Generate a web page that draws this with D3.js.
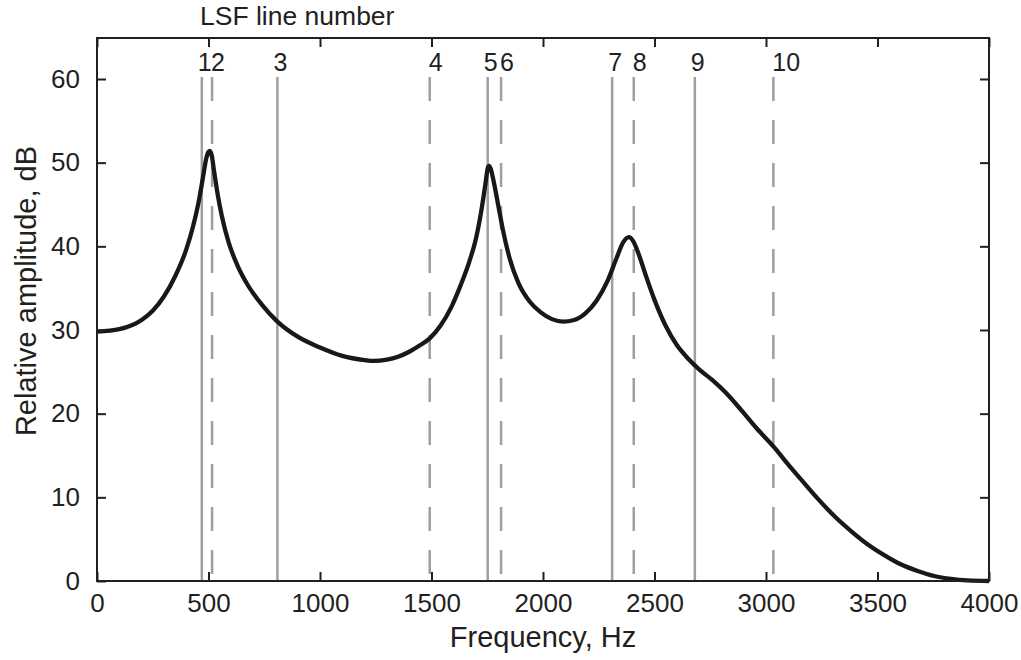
<!DOCTYPE html>
<html lang="en">
<head>
<meta charset="utf-8">
<title>LSF spectrum</title>
<script src="https://d3js.org/d3.v7.min.js"></script>
<style>
  body { margin: 0; background: #fff; }
  text { font-family: "Liberation Sans", Arial, Helvetica, sans-serif; fill: #231f20; }
</style>
</head>
<body>
<script>
// spectral envelope (Hz, dB)
var freqs = [0, 100, 200, 250, 300, 350, 400, 430, 455, 475, 490, 500, 506, 515, 525, 540, 560, 590, 630, 680, 740, 809,
             900, 1000, 1100, 1200, 1240, 1300, 1350, 1400, 1450, 1492, 1540, 1590, 1630, 1670, 1700, 1725, 1742, 1752, 1758,
             1765, 1780, 1800, 1820, 1850, 1890, 1940, 1990, 2040, 2090, 2140, 2190, 2240, 2290, 2330, 2360,
             2385, 2405, 2430, 2460, 2500, 2550, 2600, 2650, 2700, 2760, 2820, 2890, 2960, 3036, 3100, 3155, 3230,
             3305, 3380, 3455, 3530, 3604, 3680, 3754, 3830, 3903, 4000];
var amps  = [29.8, 30.1, 31.2, 32.3, 34.0, 36.4, 39.6, 42.3, 45.2, 48.2, 50.5, 51.3, 51.4, 50.8, 49.0, 46.4, 43.6, 40.5, 37.7, 35.2, 33.0, 31.0,
             29.2, 27.9, 26.9, 26.4, 26.3, 26.45, 26.8, 27.4, 28.2, 29.0, 30.5, 32.8, 35.3, 38.2, 41.0, 44.5, 47.5, 49.3, 49.6,
             49.3, 47.6, 44.8, 42.0, 38.6, 35.6, 33.4, 32.1, 31.3, 31.0, 31.2, 32.0, 33.5, 35.9, 38.6, 40.5,
             41.1, 40.6, 39.0, 36.6, 33.6, 30.5, 28.2, 26.6, 25.3, 24.0, 22.5, 20.4, 18.2, 16.0, 13.9, 12.2, 9.9,
             7.8, 6.0, 4.4, 3.1, 2.0, 1.2, 0.6, 0.25, 0.07, 0];

// LSF line positions (Hz); odd numbers solid, even numbers dashed
var lsfNumbers = [1, 2, 3, 4, 5, 6, 7, 8, 9, 10];
var lsfFreqs   = [470, 516, 809, 1492, 1752, 1812, 2310, 2407, 2681, 3033];

var xTicks = [0, 500, 1000, 1500, 2000, 2500, 3000, 3500, 4000];
var yTicks = [0, 10, 20, 30, 40, 50, 60];

var W = 1021, H = 660;
var margin = {top: 38, right: 32, bottom: 79, left: 97};
var w = W - margin.left - margin.right;
var h = H - margin.top - margin.bottom;
var fs = 26;

var svg = d3.select("body").append("svg")
    .attr("width", W)
    .attr("height", H);

var g = svg.append("g")
    .attr("transform", "translate(" + margin.left + "," + margin.top + ")");

var x = d3.scaleLinear().domain([0, 4000]).range([0, w]);
var y = d3.scaleLinear().domain([0, 64.9]).range([h, 0]);

// LSF lines
var lsf = lsfNumbers.map((n, i) => ({n: n, f: lsfFreqs[i]}));

g.selectAll("line.lsf")
  .data(lsf)
  .enter().append("line")
    .attr("class", "lsf")
    .attr("x1", d => x(d.f))
    .attr("x2", d => x(d.f))
    .attr("y1", y(60) - 2)
    .attr("y2", h)
    .attr("stroke", "#9d9fa2")
    .attr("stroke-width", 2.5)
    .attr("stroke-dasharray", d => d.n % 2 ? null : "24,19");

g.selectAll("text.lsf")
  .data(lsf)
  .enter().append("text")
    .attr("class", "lsf")
    .attr("x", d => x(d.f) + (d.n % 2 ? -4 : -1))
    .attr("y", y(60) - 8)
    .attr("font-size", fs - 1)
    .text(d => d.n);

// spectrum curve
var pts = freqs.map((f, i) => [f, amps[i]]);
var line = d3.line()
    .x(d => x(d[0]))
    .y(d => y(d[1]))
    .curve(d3.curveMonotoneX);

g.append("path")
    .datum(pts)
    .attr("d", line)
    .attr("fill", "none")
    .attr("stroke", "#1a1718")
    .attr("stroke-width", 4.3)
    .attr("stroke-linejoin", "round");

// axes with inward ticks on all four sides
var tl = 9;
function styleAxis(sel) {
  sel.select(".domain").remove();
  sel.selectAll(".tick line").attr("stroke", "#231f20").attr("stroke-width", 2);
  sel.selectAll(".tick text").attr("font-size", fs).attr("font-family", null).attr("fill", "#231f20");
}

g.append("g")
    .attr("transform", "translate(0," + h + ")")
    .call(d3.axisBottom(x).tickValues(xTicks).tickSize(-tl).tickPadding(13).tickFormat(d3.format("d")))
    .call(styleAxis);

g.append("g")
    .call(d3.axisTop(x).tickValues(xTicks).tickSize(-tl).tickFormat(""))
    .call(styleAxis);

g.append("g")
    .call(d3.axisLeft(y).tickValues(yTicks).tickSize(-tl).tickPadding(17))
    .call(styleAxis);

g.append("g")
    .attr("transform", "translate(" + w + ",0)")
    .call(d3.axisRight(y).tickValues(yTicks).tickSize(-tl).tickFormat(""))
    .call(styleAxis);

g.append("rect")
    .attr("width", w)
    .attr("height", h)
    .attr("fill", "none")
    .attr("stroke", "#231f20")
    .attr("stroke-width", 2);

// titles
svg.append("text")
    .attr("x", margin.left + w / 2)
    .attr("y", 647)
    .attr("text-anchor", "middle")
    .attr("font-size", 29)
    .text("Frequency, Hz");

svg.append("text")
    .attr("transform", "translate(36," + 291 + ") rotate(-90)")
    .attr("text-anchor", "middle")
    .attr("font-size", 29)
    .text("Relative amplitude, dB");

svg.append("text")
    .attr("x", 200)
    .attr("y", 25)
    .attr("font-size", 26.5)
    .text("LSF line number");
</script>
</body>
</html>
